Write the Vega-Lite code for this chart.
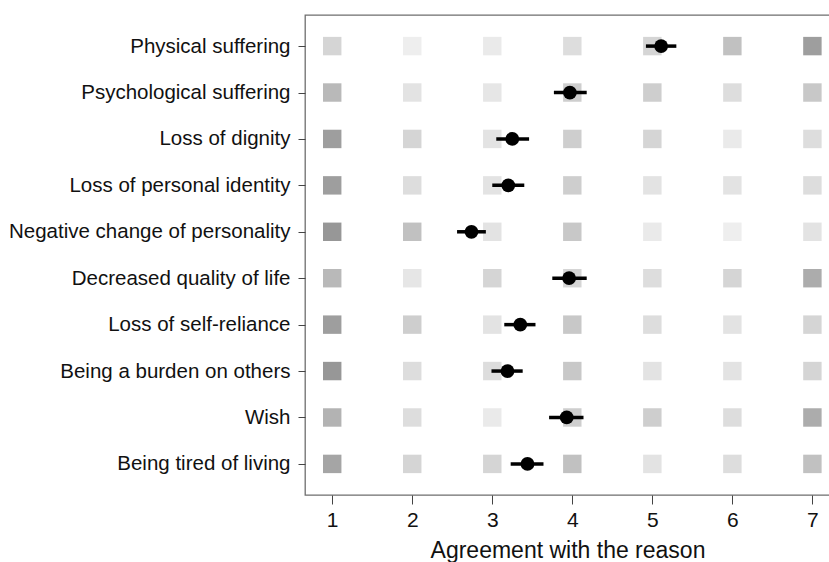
{
  "$schema": "https://vega.github.io/schema/vega-lite/v6.json",
  "autosize": {"type": "none"},
  "padding": {"left": 305, "top": 15, "right": 0, "bottom": 67},
  "width": 525,
  "height": 480,
  "background": "white",
  "config": {
    "view": {"stroke": "#6e6e6e", "strokeWidth": 1.3},
    "font": "Liberation Sans",
    "axis": {"grid": false, "domain": false, "tickColor": "#444", "labelColor": "#111", "titleColor": "#111", "labelFont": "Liberation Sans", "titleFont": "Liberation Sans", "titleFontWeight": "normal"}
  },
  "datasets": {
    "cells": [
      {"reason": "Physical suffering", "score": 1, "density": 0.30},
      {"reason": "Physical suffering", "score": 2, "density": 0.12},
      {"reason": "Physical suffering", "score": 3, "density": 0.15},
      {"reason": "Physical suffering", "score": 4, "density": 0.25},
      {"reason": "Physical suffering", "score": 5, "density": 0.30},
      {"reason": "Physical suffering", "score": 6, "density": 0.45},
      {"reason": "Physical suffering", "score": 7, "density": 0.70},
      {"reason": "Psychological suffering", "score": 1, "density": 0.50},
      {"reason": "Psychological suffering", "score": 2, "density": 0.20},
      {"reason": "Psychological suffering", "score": 3, "density": 0.18},
      {"reason": "Psychological suffering", "score": 4, "density": 0.35},
      {"reason": "Psychological suffering", "score": 5, "density": 0.35},
      {"reason": "Psychological suffering", "score": 6, "density": 0.25},
      {"reason": "Psychological suffering", "score": 7, "density": 0.40},
      {"reason": "Loss of dignity", "score": 1, "density": 0.70},
      {"reason": "Loss of dignity", "score": 2, "density": 0.30},
      {"reason": "Loss of dignity", "score": 3, "density": 0.20},
      {"reason": "Loss of dignity", "score": 4, "density": 0.35},
      {"reason": "Loss of dignity", "score": 5, "density": 0.30},
      {"reason": "Loss of dignity", "score": 6, "density": 0.15},
      {"reason": "Loss of dignity", "score": 7, "density": 0.25},
      {"reason": "Loss of personal identity", "score": 1, "density": 0.70},
      {"reason": "Loss of personal identity", "score": 2, "density": 0.25},
      {"reason": "Loss of personal identity", "score": 3, "density": 0.20},
      {"reason": "Loss of personal identity", "score": 4, "density": 0.35},
      {"reason": "Loss of personal identity", "score": 5, "density": 0.20},
      {"reason": "Loss of personal identity", "score": 6, "density": 0.20},
      {"reason": "Loss of personal identity", "score": 7, "density": 0.25},
      {"reason": "Negative change of personality", "score": 1, "density": 0.75},
      {"reason": "Negative change of personality", "score": 2, "density": 0.45},
      {"reason": "Negative change of personality", "score": 3, "density": 0.20},
      {"reason": "Negative change of personality", "score": 4, "density": 0.40},
      {"reason": "Negative change of personality", "score": 5, "density": 0.15},
      {"reason": "Negative change of personality", "score": 6, "density": 0.12},
      {"reason": "Negative change of personality", "score": 7, "density": 0.20},
      {"reason": "Decreased quality of life", "score": 1, "density": 0.50},
      {"reason": "Decreased quality of life", "score": 2, "density": 0.18},
      {"reason": "Decreased quality of life", "score": 3, "density": 0.30},
      {"reason": "Decreased quality of life", "score": 4, "density": 0.30},
      {"reason": "Decreased quality of life", "score": 5, "density": 0.25},
      {"reason": "Decreased quality of life", "score": 6, "density": 0.30},
      {"reason": "Decreased quality of life", "score": 7, "density": 0.60},
      {"reason": "Loss of self-reliance", "score": 1, "density": 0.70},
      {"reason": "Loss of self-reliance", "score": 2, "density": 0.35},
      {"reason": "Loss of self-reliance", "score": 3, "density": 0.20},
      {"reason": "Loss of self-reliance", "score": 4, "density": 0.40},
      {"reason": "Loss of self-reliance", "score": 5, "density": 0.25},
      {"reason": "Loss of self-reliance", "score": 6, "density": 0.20},
      {"reason": "Loss of self-reliance", "score": 7, "density": 0.30},
      {"reason": "Being a burden on others", "score": 1, "density": 0.75},
      {"reason": "Being a burden on others", "score": 2, "density": 0.25},
      {"reason": "Being a burden on others", "score": 3, "density": 0.25},
      {"reason": "Being a burden on others", "score": 4, "density": 0.40},
      {"reason": "Being a burden on others", "score": 5, "density": 0.20},
      {"reason": "Being a burden on others", "score": 6, "density": 0.20},
      {"reason": "Being a burden on others", "score": 7, "density": 0.30},
      {"reason": "Wish", "score": 1, "density": 0.55},
      {"reason": "Wish", "score": 2, "density": 0.25},
      {"reason": "Wish", "score": 3, "density": 0.15},
      {"reason": "Wish", "score": 4, "density": 0.35},
      {"reason": "Wish", "score": 5, "density": 0.35},
      {"reason": "Wish", "score": 6, "density": 0.25},
      {"reason": "Wish", "score": 7, "density": 0.60},
      {"reason": "Being tired of living", "score": 1, "density": 0.65},
      {"reason": "Being tired of living", "score": 2, "density": 0.30},
      {"reason": "Being tired of living", "score": 3, "density": 0.30},
      {"reason": "Being tired of living", "score": 4, "density": 0.45},
      {"reason": "Being tired of living", "score": 5, "density": 0.20},
      {"reason": "Being tired of living", "score": 6, "density": 0.25},
      {"reason": "Being tired of living", "score": 7, "density": 0.45}
    ],
    "means": [
      {"reason": "Physical suffering", "mean": 5.11, "lo": 4.92, "hi": 5.30},
      {"reason": "Psychological suffering", "mean": 3.97, "lo": 3.77, "hi": 4.18},
      {"reason": "Loss of dignity", "mean": 3.25, "lo": 3.05, "hi": 3.46},
      {"reason": "Loss of personal identity", "mean": 3.20, "lo": 3.00, "hi": 3.40},
      {"reason": "Negative change of personality", "mean": 2.74, "lo": 2.56, "hi": 2.92},
      {"reason": "Decreased quality of life", "mean": 3.96, "lo": 3.75, "hi": 4.18},
      {"reason": "Loss of self-reliance", "mean": 3.35, "lo": 3.15, "hi": 3.54},
      {"reason": "Being a burden on others", "mean": 3.19, "lo": 2.99, "hi": 3.38},
      {"reason": "Wish", "mean": 3.93, "lo": 3.71, "hi": 4.14},
      {"reason": "Being tired of living", "mean": 3.44, "lo": 3.23, "hi": 3.64}
    ]
  },
  "layer": [
    {
      "data": {"name": "cells"},
      "mark": {"type": "point", "shape": "square", "filled": true, "size": 340, "color": "#333", "strokeWidth": 0},
      "encoding": {
        "x": {"field": "score", "type": "quantitative", "scale": {"domain": [0.66, 7.22], "nice": false, "zero": false},
              "axis": {"values": [1, 2, 3, 4, 5, 6, 7], "title": "Agreement with the reason", "labelFontSize": 21, "titleFontSize": 23, "tickSize": 9, "labelPadding": 5, "titlePadding": 9, "format": "d"}},
        "y": {"field": "reason", "type": "nominal", "sort": ["Physical suffering", "Psychological suffering", "Loss of dignity", "Loss of personal identity", "Negative change of personality", "Decreased quality of life", "Loss of self-reliance", "Being a burden on others", "Wish", "Being tired of living"],
              "scale": {"type": "point", "padding": 0.67},
              "axis": {"title": null, "labelFontSize": 20.5, "tickSize": 7, "labelPadding": 8, "labelLimit": 320}},
        "opacity": {"field": "density", "type": "quantitative", "scale": {"domain": [0, 1], "range": [0, 0.68]}, "legend": null}
      }
    },
    {
      "data": {"name": "means"},
      "mark": {"type": "rule", "color": "black", "strokeWidth": 3.5},
      "encoding": {
        "x": {"field": "lo", "type": "quantitative"},
        "x2": {"field": "hi"},
        "y": {"field": "reason", "type": "nominal", "sort": ["Physical suffering", "Psychological suffering", "Loss of dignity", "Loss of personal identity", "Negative change of personality", "Decreased quality of life", "Loss of self-reliance", "Being a burden on others", "Wish", "Being tired of living"]}
      }
    },
    {
      "data": {"name": "means"},
      "mark": {"type": "circle", "color": "black", "size": 190, "opacity": 1},
      "encoding": {
        "x": {"field": "mean", "type": "quantitative"},
        "y": {"field": "reason", "type": "nominal", "sort": ["Physical suffering", "Psychological suffering", "Loss of dignity", "Loss of personal identity", "Negative change of personality", "Decreased quality of life", "Loss of self-reliance", "Being a burden on others", "Wish", "Being tired of living"]}
      }
    }
  ]
}
